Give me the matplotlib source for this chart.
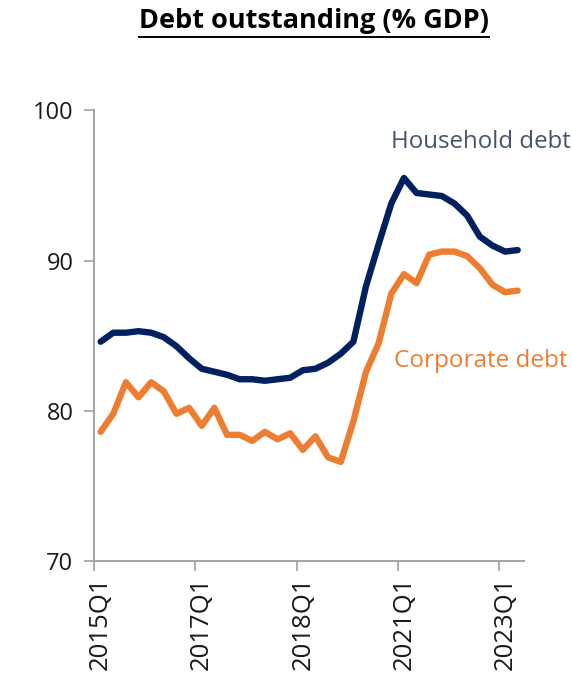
import numpy as np
import matplotlib
matplotlib.use('Agg')
import matplotlib.pyplot as plt
from matplotlib.lines import Line2D

plt.rcParams['font.family'] = ['Open Sans', 'DejaVu Sans']

# quarterly debt-to-GDP readings, 34 quarters
household = [84.6, 85.2, 85.2, 85.3, 85.2, 84.9, 84.3, 83.5, 82.8, 82.6,
             82.4, 82.1, 82.1, 82.0, 82.1, 82.2, 82.7, 82.8, 83.2, 83.8,
             84.6, 88.3, 91.1, 93.8, 95.5, 94.5, 94.4, 94.3, 93.8, 93.0,
             91.6, 91.0, 90.6, 90.7]
corporate = [78.6, 79.8, 81.9, 80.9, 81.9, 81.3, 79.8, 80.2, 79.0, 80.2,
             78.4, 78.4, 78.0, 78.6, 78.1, 78.5, 77.4, 78.3, 76.9, 76.6,
             79.3, 82.6, 84.5, 87.8, 89.1, 88.5, 90.4, 90.6, 90.6, 90.3,
             89.5, 88.4, 87.9, 88.0]
tick_labels = ['2015Q1', '2017Q1', '2018Q1', '2021Q1', '2023Q1']
label_idx = [0, 8, 16, 24, 32]

navy = '#002060'
orange = '#ED7D31'
axis_grey = '#A6A6A6'

fig = plt.figure(figsize=(5.72, 6.75), dpi=100)
ax = fig.add_axes([94.3 / 572, 1 - 561 / 675, (524 - 94.3) / 572, (561 - 110.4) / 675])

x = np.arange(len(household))
ax.plot(x, household, color=navy, lw=4.6, solid_joinstyle='round', solid_capstyle='round')
ax.plot(x, corporate, color=orange, lw=4.6, solid_joinstyle='round', solid_capstyle='round')

ax.set_xlim(-0.5, len(x) - 0.5)
ax.set_ylim(70, 100)
ax.set_yticks([70, 80, 90, 100])

# tick marks sit between categories, labels at category centres
ax.set_xticks(np.array(label_idx) - 0.5)
ax.set_xticklabels([])
ax.set_xticks(label_idx, minor=True)
ax.set_xticklabels(tick_labels, minor=True, rotation=90, fontsize=18.5, color='#1a1a1a')
ax.tick_params(axis='x', which='minor', length=0, pad=11)
ax.tick_params(axis='x', which='major', length=7, width=1.3, color=axis_grey, direction='out')
ax.tick_params(axis='y', length=7, width=1.3, color=axis_grey, direction='out',
               labelsize=17, labelcolor='#1a1a1a', pad=8)

for side in ['top', 'right']:
    ax.spines[side].set_visible(False)
for side in ['left', 'bottom']:
    ax.spines[side].set_color(axis_grey)
    ax.spines[side].set_linewidth(1.5)

ax.text(23.0, 97.9, 'Household debt', color='#44546A', fontsize=17.3,
        va='center', ha='left', clip_on=False)
ax.text(23.2, 83.3, 'Corporate debt', color=orange, fontsize=17.5,
        va='center', ha='left', clip_on=False)

title = fig.text(314 / 572, 1 - 21 / 675, 'Debt outstanding (% GDP)', ha='center', va='center',
                 fontsize=19.5, fontweight='bold', color='black')

# underline the title
fig.canvas.draw()
bb = title.get_window_extent().transformed(fig.transFigure.inverted())
uy = bb.y0 - 0.004
fig.add_artist(Line2D([bb.x0, bb.x1], [uy, uy], transform=fig.transFigure,
                      color='black', lw=1.4))

fig.savefig('out.png', dpi=100)
